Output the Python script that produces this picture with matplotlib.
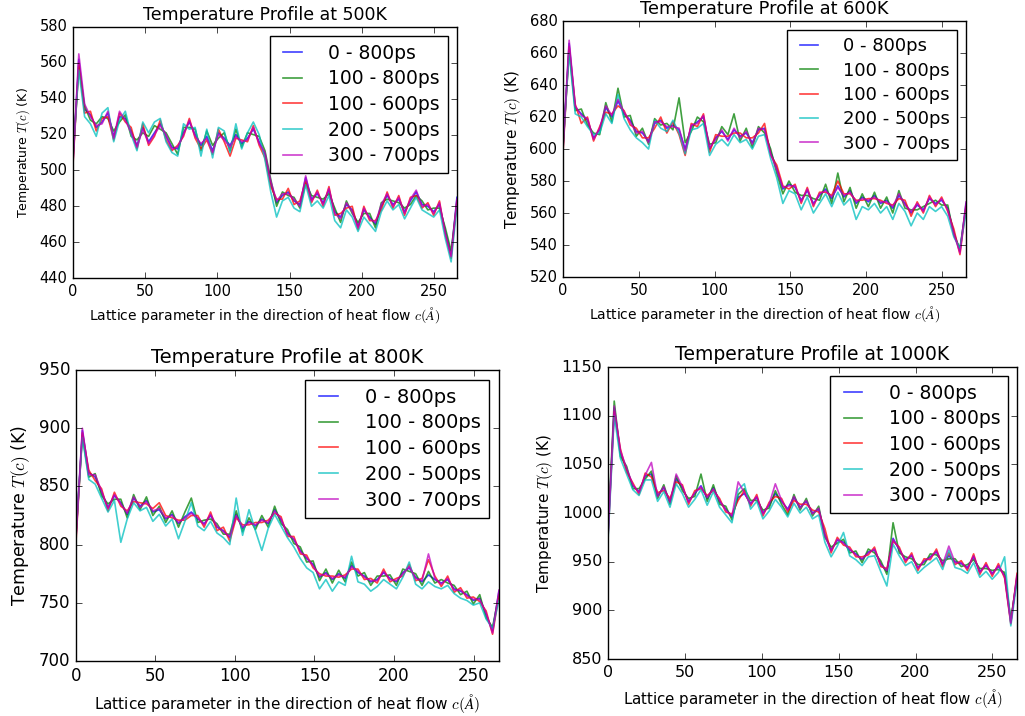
import numpy as np
import matplotlib
matplotlib.use("Agg")
import matplotlib.pyplot as plt

# averaging windows used for each curve
windows = ["0 - 800ps", "100 - 800ps", "100 - 600ps", "200 - 500ps", "300 - 700ps"]

# ---- 500K ----
t500_a = [505, 562, 534, 531, 524, 527, 532, 519, 530, 529, 522, 514, 524, 516, 521, 526, 519, 513, 512, 521, 527, 520, 514, 519, 511, 521, 518, 514, 520, 515, 518, 523, 516, 509, 493, 482, 486, 488, 483, 481, 496, 484, 487, 482, 489, 477, 474, 481, 478, 469, 478, 474, 470, 480, 486, 481, 484, 477, 483, 488, 481, 480, 477, 481, 466, 453, 485]
t500_b = [507, 558, 536, 528, 526, 530, 529, 522, 527, 531, 519, 517, 521, 519, 525, 523, 521, 515, 509, 524, 524, 523, 511, 522, 514, 518, 521, 511, 523, 513, 521, 520, 519, 511, 495, 480, 488, 486, 485, 479, 493, 486, 485, 484, 487, 479, 471, 483, 476, 471, 476, 476, 468, 482, 484, 483, 482, 479, 481, 486, 483, 478, 479, 479, 468, 455, 482]
t500_c = [503, 560, 532, 533, 522, 529, 530, 517, 532, 527, 524, 512, 526, 514, 519, 528, 517, 511, 514, 519, 529, 518, 512, 517, 509, 523, 516, 508, 518, 517, 516, 525, 514, 507, 491, 484, 484, 490, 481, 483, 494, 482, 489, 480, 491, 475, 476, 479, 480, 467, 480, 472, 472, 478, 488, 479, 486, 475, 485, 486, 479, 482, 475, 483, 464, 451, 483]
t500_d = [508, 556, 530, 526, 519, 532, 535, 516, 528, 533, 520, 511, 527, 521, 527, 529, 516, 510, 508, 526, 523, 524, 508, 523, 507, 524, 522, 510, 526, 512, 521, 527, 520, 506, 488, 474, 483, 485, 479, 477, 492, 480, 483, 479, 486, 472, 468, 478, 474, 466, 474, 470, 466, 477, 483, 478, 481, 473, 479, 485, 478, 476, 474, 478, 462, 449, 480]
t500_e = [504, 565, 537, 530, 525, 526, 533, 518, 533, 528, 521, 513, 523, 515, 520, 525, 520, 512, 513, 520, 528, 519, 515, 518, 510, 520, 517, 513, 519, 516, 517, 524, 515, 510, 494, 483, 487, 487, 484, 480, 497, 483, 488, 481, 490, 476, 473, 482, 477, 468, 479, 473, 471, 481, 487, 480, 485, 476, 484, 489, 480, 481, 476, 482, 465, 452, 484]

# ---- 600K ----
t600_a = [600, 666, 626, 622, 618, 607, 612, 626, 620, 630, 622, 618, 611, 610, 605, 616, 618, 613, 615, 612, 600, 614, 617, 620, 600, 607, 611, 606, 612, 608, 610, 604, 612, 613, 598, 588, 575, 578, 576, 568, 574, 566, 571, 575, 569, 577, 570, 574, 566, 570, 567, 571, 566, 568, 563, 571, 566, 560, 565, 562, 569, 566, 568, 563, 548, 536, 566]
t600_b = [602, 662, 624, 625, 615, 610, 609, 629, 617, 638, 620, 621, 608, 613, 603, 619, 615, 616, 612, 632, 604, 611, 620, 617, 603, 604, 614, 609, 622, 605, 613, 601, 614, 610, 600, 585, 572, 580, 573, 571, 571, 569, 568, 578, 566, 585, 567, 576, 563, 572, 564, 573, 563, 570, 560, 574, 563, 562, 562, 564, 566, 568, 565, 565, 546, 538, 564]
t600_c = [598, 664, 628, 616, 620, 605, 614, 623, 622, 627, 624, 615, 613, 607, 607, 613, 620, 610, 617, 609, 596, 616, 614, 622, 598, 609, 608, 608, 610, 610, 607, 607, 610, 616, 596, 590, 577, 575, 578, 566, 576, 564, 573, 573, 571, 580, 572, 572, 568, 568, 569, 569, 568, 566, 565, 569, 568, 558, 567, 560, 571, 564, 570, 561, 550, 534, 564]
t600_d = [603, 660, 622, 620, 614, 609, 610, 622, 616, 634, 619, 612, 607, 604, 600, 618, 613, 611, 618, 610, 597, 612, 613, 616, 596, 603, 606, 602, 609, 604, 606, 600, 608, 609, 594, 582, 566, 574, 572, 562, 570, 560, 566, 572, 564, 573, 565, 569, 556, 564, 562, 566, 560, 564, 556, 566, 561, 552, 560, 556, 564, 561, 564, 558, 545, 538, 560]
t600_e = [601, 668, 627, 621, 619, 606, 613, 627, 621, 631, 623, 617, 610, 611, 604, 617, 617, 614, 614, 613, 599, 615, 616, 621, 601, 606, 612, 605, 613, 607, 611, 603, 613, 612, 597, 587, 576, 577, 577, 567, 575, 565, 572, 574, 570, 576, 571, 573, 567, 569, 568, 570, 567, 567, 564, 572, 565, 561, 566, 561, 570, 565, 569, 562, 547, 535, 567]

# ---- 800K ----
t800_a = [805, 898, 862, 858, 845, 832, 842, 836, 826, 840, 833, 838, 828, 830, 822, 826, 818, 824, 828, 822, 818, 825, 815, 812, 806, 826, 814, 820, 816, 822, 818, 830, 821, 810, 804, 795, 788, 783, 772, 776, 770, 775, 771, 782, 776, 773, 768, 770, 776, 771, 768, 776, 780, 772, 768, 774, 770, 767, 770, 762, 760, 757, 752, 754, 740, 726, 760]
t800_b = [808, 894, 858, 861, 842, 835, 839, 839, 823, 843, 830, 841, 825, 833, 819, 829, 815, 828, 840, 819, 821, 822, 818, 809, 809, 829, 811, 823, 813, 825, 815, 833, 818, 813, 801, 798, 785, 786, 769, 779, 767, 778, 768, 785, 773, 776, 765, 773, 773, 774, 765, 779, 777, 775, 765, 777, 767, 770, 767, 765, 757, 760, 749, 757, 737, 729, 757]
t800_c = [802, 896, 864, 855, 848, 829, 845, 833, 829, 837, 836, 835, 831, 836, 825, 823, 821, 821, 825, 825, 815, 828, 812, 815, 803, 823, 817, 817, 819, 819, 821, 827, 824, 807, 807, 792, 791, 780, 775, 773, 773, 772, 774, 779, 779, 770, 771, 767, 779, 768, 771, 773, 783, 769, 771, 787, 773, 764, 773, 759, 763, 754, 755, 751, 743, 723, 757]
t800_d = [810, 892, 856, 852, 840, 828, 838, 802, 822, 836, 829, 832, 820, 826, 816, 822, 805, 820, 836, 816, 812, 820, 810, 806, 800, 840, 808, 830, 812, 795, 814, 826, 816, 806, 798, 788, 780, 776, 762, 770, 760, 768, 765, 790, 768, 766, 760, 764, 770, 766, 762, 772, 785, 766, 762, 768, 764, 762, 765, 758, 754, 752, 748, 750, 736, 728, 752]
t800_e = [806, 900, 860, 860, 846, 831, 843, 835, 827, 841, 832, 837, 829, 831, 823, 825, 819, 823, 827, 823, 817, 826, 816, 811, 807, 825, 815, 819, 817, 821, 819, 829, 822, 809, 805, 794, 789, 782, 773, 775, 771, 774, 772, 781, 777, 772, 769, 769, 777, 770, 769, 775, 781, 771, 769, 792, 771, 766, 771, 761, 761, 756, 753, 753, 741, 724, 761]

# ---- 1000K ----
t1000_a = [978, 1108, 1062, 1045, 1028, 1022, 1038, 1040, 1018, 1026, 1012, 1035, 1026, 1012, 1020, 1028, 1015, 1026, 1012, 1004, 996, 1016, 1020, 1010, 1016, 1000, 1008, 1020, 1012, 1004, 1016, 1006, 1012, 1000, 1004, 978, 962, 972, 970, 962, 958, 952, 960, 962, 948, 940, 974, 962, 952, 956, 944, 950, 955, 960, 948, 956, 950, 948, 944, 955, 940, 946, 938, 945, 936, 888, 935]
t1000_b = [982, 1115, 1058, 1048, 1025, 1025, 1035, 1043, 1015, 1029, 1009, 1038, 1023, 1015, 1017, 1040, 1012, 1029, 1009, 1007, 993, 1019, 1025, 1013, 1013, 1003, 1005, 1023, 1009, 998, 1019, 1003, 1015, 997, 1007, 975, 965, 969, 973, 959, 961, 949, 963, 959, 951, 937, 990, 959, 955, 953, 947, 947, 958, 957, 951, 953, 953, 945, 947, 952, 943, 943, 941, 942, 939, 891, 932]
t1000_c = [975, 1104, 1066, 1042, 1031, 1019, 1041, 1037, 1021, 1023, 1015, 1032, 1029, 1009, 1023, 1025, 1018, 1023, 1015, 1001, 999, 1013, 1023, 1007, 1019, 997, 1011, 1017, 1015, 1001, 1013, 1009, 1009, 1003, 1001, 984, 959, 975, 967, 965, 955, 955, 957, 965, 945, 943, 971, 965, 949, 959, 941, 953, 952, 963, 945, 959, 947, 951, 941, 958, 937, 949, 935, 948, 933, 886, 938]
t1000_d = [972, 1100, 1056, 1040, 1024, 1018, 1034, 1034, 1012, 1022, 1006, 1030, 1020, 1006, 1014, 1024, 1008, 1022, 1006, 998, 990, 1024, 1030, 1004, 1012, 994, 1002, 1014, 1006, 996, 1010, 1000, 1006, 994, 998, 970, 955, 966, 980, 956, 952, 946, 955, 956, 940, 925, 968, 956, 946, 950, 938, 944, 949, 954, 942, 962, 944, 942, 938, 949, 934, 940, 932, 939, 955, 884, 930]
t1000_e = [976, 1110, 1064, 1046, 1029, 1021, 1039, 1052, 1017, 1027, 1011, 1040, 1027, 1011, 1021, 1027, 1016, 1025, 1013, 1003, 997, 1032, 1021, 1009, 1017, 999, 1009, 1030, 1013, 1003, 1017, 1005, 1013, 999, 1005, 977, 961, 973, 969, 963, 957, 953, 959, 963, 947, 941, 973, 963, 951, 957, 943, 951, 954, 961, 947, 966, 949, 949, 943, 956, 939, 947, 937, 946, 935, 887, 936]

# lattice length along c (Angstrom)
c_len = 266.0

plt.style.use("classic")
plt.rcParams["figure.facecolor"] = "white"
plt.rcParams["savefig.facecolor"] = "white"

fig = plt.figure(figsize=(10.25, 7.16), dpi=100)

# title, curves, y-range, axes rect, then font sizes: title, ticks, xlabel, ylabel, legend
panels = [
    ("Temperature Profile at 500K", [t500_a, t500_b, t500_c, t500_d, t500_e], (440, 580),
     [0.0712, 0.6117, 0.3746, 0.3506], 12.5, 10.5, 10, 9, 13.5),
    ("Temperature Profile at 600K", [t600_a, t600_b, t600_c, t600_d, t600_e], (520, 680),
     [0.5493, 0.6131, 0.3932, 0.3575], 12.8, 10.5, 10, 11, 13),
    ("Temperature Profile at 800K", [t800_a, t800_b, t800_c, t800_d, t800_e], (700, 950),
     [0.0741, 0.0768, 0.4127, 0.4064], 14, 12, 11, 12.5, 14),
    ("Temperature Profile at 1000K", [t1000_a, t1000_b, t1000_c, t1000_d, t1000_e], (850, 1150),
     [0.5932, 0.0796, 0.3990, 0.4078], 13.5, 11.5, 10.8, 11, 13.5),
]

for title, series, ylim, rect, fs_title, fs_tick, fs_xl, fs_yl, fs_leg in panels:
    ax = fig.add_axes(rect)
    for vals, lab in zip(series, windows):
        assert len(vals) == 67, (title, lab, len(vals))
        x = np.linspace(0, c_len, len(vals))
        ax.plot(x, vals, lw=1.2, alpha=0.75, label=lab)
    ax.set_xlim(0, c_len)
    ax.set_ylim(*ylim)
    ax.set_xticks([0, 50, 100, 150, 200, 250])
    ax.tick_params(labelsize=fs_tick)
    ax.set_title(title, fontsize=fs_title)
    ax.set_xlabel("Lattice parameter in the direction of heat flow $c(\\AA)$", fontsize=fs_xl)
    ax.set_ylabel("Temperature $T(c)$ (K)", fontsize=fs_yl)
    ax.legend(loc="upper right", fontsize=fs_leg, handlelength=1.6,
              handletextpad=1.1, labelspacing=0.35)

fig.savefig("out.png", dpi=100)
